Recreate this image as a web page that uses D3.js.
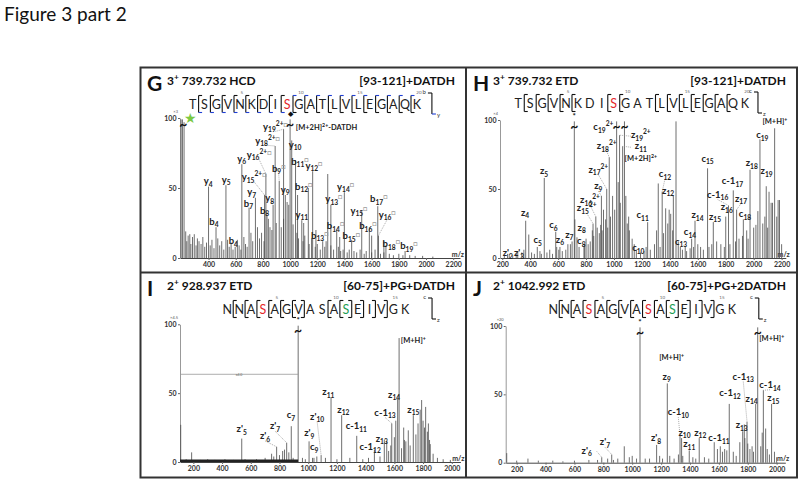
<!DOCTYPE html>
<html>
<head>
<meta charset="utf-8">
<script src="https://cdn.jsdelivr.net/npm/d3@7"></script>
<style>
body{margin:0;background:#fff}
text{font-family:Lato,'Open Sans',sans-serif}
</style>
</head>
<body>
<svg id="fig"></svg>
<script>
// ---------- header texts ----------
const panelLetters = ['G', 'H', 'I', 'J']
const panelTitles = ['3^{+} 739.732 HCD', '3^{+} 739.732 ETD', '2^{+} 928.937 ETD', '2^{+} 1042.992 ETD']
const panelPeptides = ['[93-121]+DATDH', '[93-121]+DATDH', '[60-75]+PG+DATDH', '[60-75]+PG+2DATDH']
const panelMags = ['×3', '×4', '×4.5', '×20']

// ---------- sequences ----------
const gSeq = 'TSGVNKDISGATLVLEGAQK'.split('')
const hSeq = 'TSGVNKDISGATLVLEGAQK'.split('')
const iSeq = 'NNASAGVASASEIVGK'.split('')
const jSeq = 'NNASAGVASASEIVGK'.split('')
// cleavage sites (after residue n): N-terminal ion marks and C-terminal ion marks
const gNside = []
const gCside = [1,2,3,4,5,6,7,8,9,10,11,12,13,14,15,16,17,18,19]
const hNside = []
const hCside = [1,2,3,4,5,8,9,12,13,14,15,16,17,18]
const iNside = [7,11,12,13,14]
const iCside = [1,2,3,4,5,6,9,10]
const jNside = [11,12,13,14]
const jCside = [1,2,3,4,5,6,7,8,9,10]
const gRed = [9], hRed = [9], iRed = [4], jRed = [4,9]
const iGreen = [11], jGreen = [11]

// ---------- axis ticks ----------
const yTicks = [0, 50, 100]
const gTicks = [400,600,800,1000,1200,1400,1600,1800,2000,2200]
const hTicks = [200,400,600,800,1000,1200,1400,1600,1800,2000,2200]
const iTicks = [200,400,600,800,1000,1200,1400,1600,1800,2000]
const jTicks = [200,400,600,800,1000,1200,1400,1600,1800,2000]

// ---------- labelled peaks: [label, peak m/z, peak int, label m/z, label int, leader] ----------
const gLabels = [
  ['y_{4}', 400, 51, 398, 55, 0], ['b_{4}', 455, 22, 440, 26, 0], ['y_{5}', 528, 52, 529, 56, 0],
  ['b_{4}', 596, 8, 582, 12, 0], ['y_{6}', 645, 67, 644, 71, 0], ['b_{7}', 698, 36, 693, 39, 0],
  ['y_{7}', 745, 43, 718, 47, 0], ['y_{15}^{2+}□', 812, 45, 735, 58, 1], ['b_{8}', 830, 30, 812, 34, 0],
  ['y_{16}^{2+}□', 822, 60, 772, 74, 1], ['y_{8}', 875, 38, 850, 43, 0], ['y_{18}^{2+}□', 890, 80, 834, 84, 1],
  ['b_{9}□', 920, 55, 916, 64, 1], ['y_{9}', 965, 45, 963, 49, 0], ['y_{19}^{2+}□', 952, 92, 892, 94, 1],
  ['[M+2H]^{2+}-DATDH', null, null, 1268, 93, 0], ['y_{10}', 1012, 84, 1036, 81, 0],
  ['b_{11}□', 1040, 70, 1072, 69, 0], ['y_{11}', 1086, 27, 1086, 31, 0], ['b_{12}□', 1134, 50, 1100, 51, 0],
  ['y_{12}□', 1166, 62, 1175, 66, 0], ['b_{13}□', 1240, 12, 1218, 16, 0], ['y_{13}□', 1300, 38, 1322, 42, 1],
  ['b_{14}□', 1343, 20, 1334, 23, 0], ['y_{14}□', 1399, 47, 1408, 51, 0], ['b_{15}□', 1453, 13, 1450, 15.5, 0],
  ['y_{15}□', 1527, 34, 1506, 34, 0], ['b_{16}□', 1583, 22, 1572, 23, 0], ['b_{17}□', 1645, 37, 1652, 42, 1],
  ['y_{16}□', 1650, 16, 1714, 31, 1], ['b_{18}□', 1705, 9, 1744, 10, 0], ['b_{19}□', 1846, 5, 1874, 8.5, 0]
]
const hLabels = [
  ["z'_{2}", 238, 3, 240, 3.5, 0], ["z'_{3}", 311, 5, 320, 3.5, 0], ['z_{4}', 368, 27, 363, 33, 0],
  ['c_{5}', 451, 8, 454, 13, 0], ['z_{5}', 501, 58, 499, 63, 0], ['c_{6}', 583, 19, 566, 24, 0],
  ['z_{6}', 613, 8, 613, 13.5, 0], ['z_{7}', 688, 10, 680, 17, 0], ['c_{8}', 785, 8, 766, 12.5, 0],
  ['z_{8}', 800, 14, 769, 22, 0], ['z_{15}^{2+}', 850, 25, 805, 36, 1], ['z_{16}^{2+}', 870, 30, 828, 42, 1],
  ['z_{9}', 910, 45, 888, 52, 1], ['z_{17}^{2+}', 948, 50, 888, 64, 1], ['z_{18}^{2+}', 966, 73, 948, 81, 1],
  ['c_{19}^{2+}', null, null, 924, 95, 0], ['z_{19}^{2+}', 1040, 89, 1192, 89, 1], ['z_{11}', 1062, 81, 1192, 81, 1],
  ['[M+2H]^{2+}', null, null, 1192, 72, 0], ['c_{10}', 1190, 4, 1174, 7, 0], ['c_{11}', 1241, 26, 1205, 31, 0],
  ['c_{12}', 1345, 48, 1365, 61, 1], ['z_{12}', 1425, 45, 1387, 49, 1], ['c_{13}', 1510, 8, 1480, 12, 0],
  ['c_{14}', 1556, 14, 1544, 19, 0], ['z_{14}', 1580, 27, 1598, 31, 0], ['c_{15}', 1670, 65, 1670, 72, 0],
  ['z_{15}', 1711, 26, 1723, 30, 0], ['c-1_{16}', 1820, 38, 1742, 46, 1], ['z_{16}', 1800, 30, 1807, 37, 0],
  ['c-1_{17}', 1854, 49, 1848, 56, 0], ['z_{17}', 1878, 35, 1909, 43, 1], ['c_{18}', 1926, 28, 1938, 32, 0],
  ['z_{18}', 1974, 64, 1986, 69, 0], ['c_{19}', 2045, 86, 2062, 89, 0], ['z_{19}', 2090, 52, 2093, 63, 0],
  ['[M+H]^{+}', 2150, 94, 2152, 99, 0]
]
const iLabels = [
  ["z'_{5}", 537, 17, 537, 24, 0], ["z'_{6}", 780, 11, 699, 19, 1], ["z'_{7}", 850, 14, 769, 26, 1],
  ['c_{7}', 882, 26, 880, 34, 0], ["z'_{9}", 1006, 15, 1008, 21, 0], ['c_{9}', 1030, 3, 1042, 11, 0],
  ["z'_{10}", 1090, 5, 1062, 33, 1], ['z_{11}', 1159, 47, 1140, 51, 0], ['z_{12}', 1233, 34, 1245, 38, 0],
  ['c-1_{11}', 1338, 19, 1335, 26, 0], ['c-1_{12}', 1461, 9, 1431, 11, 0], ['z_{13}', 1547, 15, 1512, 17, 0],
  ['c-1_{13}', 1582, 28, 1535, 36, 1], ['z_{14}', 1623, 46, 1598, 49, 1], ['z_{15}', 1732, 34, 1732, 38, 0],
  ['[M+H]^{+}', 1633, 90, 1732, 88, 0]
]
const jLabels = [
  ["z'_{6}", 789, 4, 685, 9, 1], ["z'_{7}", 858, 6, 811, 15, 1], ["z'_{8}", 1169, 13, 1165, 18, 0],
  ['[M+H]^{+}', null, null, 1273, 77, 0], ['z_{9}', 1243, 58, 1239, 63, 0], ['c-1_{10}', 1331, 20, 1319, 37, 1],
  ['z_{10}', 1342, 18, 1362, 22, 0], ['z_{11}', 1395, 9, 1395, 13.5, 0], ['z_{12}', 1464, 18, 1471, 22, 0],
  ['c-1_{11}', 1568, 15, 1601, 18, 0], ['c-1_{12}', 1672, 43, 1677, 51, 0], ['c-1_{13}', 1795, 30, 1769, 63, 1],
  ['z_{13}', 1765, 23, 1758, 27.5, 0], ['z_{14}', 1855, 43, 1827, 47, 0], ['c-1_{14}', 1908, 53, 1954, 57, 1],
  ['z_{15}', 1965, 43, 1977, 47.5, 0], ['[M+H]^{+}', null, null, 1966, 91, 0]
]

// ---------- other peaks [m/z, int] ----------
const gPeaks = [[198,100],[208,100],[220,97],[1000,100],[1277,60],[990,38],[1055,45],[1100,25],[1190,20],[1365,15],[1600,16],[1690,12]]
const hPeaks = [[716,100],[1019,100],[1075,100],[390,17],[720,28],[1317,54],[1406,32],[1444,99],[1370,36],[1110,20],[2110,48],[2135,40],[2175,42],[2016,24]]
const iPeaks = [[930,100],[112,27],[188,7],[1670,16],[1697,23],[1790,45],[1818,40],[1837,28],[1850,13]]
const jPeaks = [[1054,100],[1869,100],[131,7],[945,12],[1924,25],[1776,28]]

const gNoise = [[232,19],[240,12],[250,16],[262,17],[270,10],[282,15],[295,17],[308,9],[318,14],[330,12],[345,10],[358,15],[372,8],[385,11],[412,9],[425,13],[440,7],[468,14],[482,9],[497,12],[512,6],[540,13],[552,8],[566,11],[580,6],[612,13],[625,9],[638,6],[660,15],[672,10],[684,8],[712,18],[725,12],[760,22],[775,14],[790,18],[808,12],[840,28],[852,22],[866,20],[898,25],[935,22],[952,28],[978,40],[1022,24],[1050,18],[1062,14],[1095,12],[1108,16],[1140,10],[1158,14],[1185,8],[1200,10],[1222,6],[1255,8],[1265,12],[1300,9],[1320,6],[1355,8],[1372,5],[1390,6],[1420,4],[1435,6],[1470,5],[1490,4],[1515,6],[1545,3],[1560,5],[1600,4],[1625,6],[1665,3],[1690,4],[1730,3],[1760,2],[1800,3],[1830,2],[1880,2],[1920,1.5],[1975,1.5],[2050,1]]
const hNoise = [[215,2],[250,3],[275,2],[300,3],[340,4],[355,6],[410,4],[430,3],[470,5],[480,3],[520,4],[540,6],[560,3],[590,8],[605,6],[630,5],[655,6],[670,10],[700,12],[735,15],[750,8],[790,10],[815,10],[830,12],[845,20],[855,16],[880,22],[895,18],[905,24],[915,20],[925,35],[940,28],[955,22],[975,30],[990,45],[1005,35],[1030,55],[1045,40],[1085,45],[1095,25],[1105,30],[1130,14],[1145,10],[1160,6],[1215,5],[1230,8],[1260,6],[1290,10],[1305,20],[1330,8],[1355,18],[1385,25],[1395,35],[1420,20],[1460,12],[1475,8],[1490,6],[1520,5],[1545,7],[1570,8],[1600,10],[1620,8],[1640,6],[1680,8],[1700,10],[1735,12],[1765,10],[1790,8],[1830,10],[1870,12],[1895,14],[1920,16],[1950,20],[1960,14],[2000,22],[2030,34],[2065,25],[2080,30],[2100,22],[2125,40],[2165,30],[2185,42],[2200,10]]
const iNoise = [[150,2],[250,1.5],[300,2],[350,1.5],[420,2],[480,1.5],[560,2],[640,2],[700,3],[745,6],[760,4],[800,5],[822,8],[835,9],[865,7],[895,3],[960,3],[980,2],[1040,3],[1060,4],[1120,3],[1200,2],[1290,3],[1380,2],[1420,3],[1500,4],[1530,16],[1560,8],[1575,12],[1600,18],[1610,30],[1650,10],[1665,25],[1680,15],[1710,12],[1750,20],[1765,28],[1780,38],[1800,30],[1810,25],[1830,22],[1845,16],[1870,6],[1900,3],[1940,2],[1990,1.5]]
const jNoise = [[200,1.5],[278,3],[350,1.5],[450,1.5],[520,1],[600,1.5],[700,2],[760,2],[830,3],[870,2],[900,3],[980,4],[1000,5],[1030,3],[1090,3],[1120,3],[1190,5],[1210,3],[1260,5],[1290,3],[1320,6],[1350,5],[1420,4],[1440,3],[1500,4],[1530,3],[1590,10],[1610,12],[1625,8],[1640,10],[1655,9],[1700,8],[1720,5],[1745,15],[1780,18],[1800,14],[1815,10],[1830,12],[1840,8],[1890,12],[1900,22],[1935,10],[1950,6],[1985,8],[2000,4]]

// clipped peaks (break marks) and markers
const gBreaks = [215, 1000], hBreaks = [716, 1019, 1075], iBreaks = [930], jBreaks = [1054, 1869]
const gStars = [], hStars = [716], iStars = [930], jStars = [1054]
const gGreenStar = [264], gDiamond = [1000]
const iZoomRange = [107, 930], iZoomLevel = [63.7], iZoomText = ['x4.0']

// ---------- drawing ----------
const svg = d3.select('#fig').attr('width', 800).attr('height', 485)
svg.append('rect').attr('width', 800).attr('height', 485).attr('fill', '#fff')

// adds text with _{sub} ^{sup} markup
function rich(t, str, size){
  const parts = str.split(/(_\{[^}]*\}|\^\{[^}]*\}|□)/).filter(s => s !== '')
  let cur = 0
  parts.forEach(p => {
    let dy = 0, txt = p, fs = size, fill = null
    if (p.startsWith('_{')) { dy = size * 0.28; txt = p.slice(2, -1); fs = size * 0.7 }
    else if (p.startsWith('^{')) { dy = -size * 0.42; txt = p.slice(2, -1); fs = size * 0.7 }
    else if (p === '□') { dy = -size * 0.3; fs = size * 0.75; fill = '#999' }
    t.append('tspan').attr('dy', dy - cur).attr('font-size', fs).attr('fill', fill).text(txt)
    cur = dy
  })
}

class Spectrum{
  constructor(config, data){
    this.config = config
    this.data = data
    this.init()
  }

  init(){
    let self = this
    self.chart = svg.append('g')
    self.xscale = d3.scaleLinear().domain(self.config.domain).range(self.config.xRange)
    self.yscale = d3.scaleLinear().domain([0, 100]).range(self.config.yRange)
  }

  render(){
    this.header()
    this.sequence()
    this.axes()
    this.sticks()
    this.labels()
    this.marks()
  }

  header(){
    let self = this, c = self.config, d = self.data
    self.chart.append('text').attr('x', c.left + 7).attr('y', c.top + 24)
      .attr('font-size', 21).attr('font-weight', 'bold').attr('fill', '#111').text(d.letter)
    const t = self.chart.append('text').attr('x', c.left + 27).attr('y', c.top + 18)
      .attr('font-size', 12).attr('font-weight', 'bold').attr('fill', '#111')
    rich(t, d.title, 12)
    self.chart.append('text').attr('x', c.right - 11).attr('y', c.top + 18).attr('text-anchor', 'end')
      .attr('font-size', 12).attr('font-weight', 'bold').attr('fill', '#111').text(d.peptide)
  }

  sequence(){
    let self = this, c = self.config, d = self.data
    const sx = i => c.seqX0 + i * c.seqStep
    const yc = c.seqY
    self.chart.selectAll(null).data(d.seq).enter().append('text')
      .attr('x', (s, i) => sx(i)).attr('y', yc + 4.5).attr('text-anchor', 'middle')
      .attr('font-size', 12.5)
      .attr('fill', (s, i) => d.red.includes(i + 1) ? '#e5262b' : d.green.includes(i + 1) ? '#1e9e55' : '#222')
      .text(s => s)
    // residue numbers
    self.chart.selectAll(null).data(d.seq.map((s, i) => i + 1).filter(n => n % 5 === 0)).enter().append('text')
      .attr('x', n => sx(n - 1) + 2).attr('y', yc - 10.5).attr('text-anchor', 'middle')
      .attr('font-size', 4.5).attr('fill', '#666').text(n => n)
    const line = (x1, y1, x2, y2, col) => self.chart.append('line')
      .attr('x1', x1).attr('y1', y1).attr('x2', x2).attr('y2', y2)
      .attr('stroke', col || '#111').attr('stroke-width', 1.1)
    const h = 8.5, tk = 3.5
    d.cSide.forEach(n => {
      const xv = sx(n - 1) + c.seqStep / 2
      line(xv, yc - h, xv, yc + h)
      const topCol = d.mod && n >= d.mod ? '#1f3fd6' : '#111'
      const botCol = d.mod && n < d.mod ? '#1f3fd6' : '#111'
      line(xv, yc - h, xv + tk, yc - h, topCol)
      line(xv, yc + h, xv + tk, yc + h, botCol)
    })
    d.nSide.forEach(n => {
      const xv = sx(n - 1) + c.seqStep / 2
      line(xv, yc - h, xv, yc + h)
      line(xv - tk, yc - h, xv, yc - h)
      line(xv - tk, yc + h, xv, yc + h)
    })
    // ion type legend
    const lx = sx(d.seq.length - 1) + c.legendDx
    line(lx - 4, yc - 11, lx, yc - 11)
    line(lx, yc - 11, lx, yc + 10)
    line(lx, yc + 10, lx + 4, yc + 10, d.mod ? '#1f3fd6' : '#111')
    self.chart.append('text').attr('x', lx - 6).attr('y', yc - 10).attr('text-anchor', 'end')
      .attr('font-size', 6).attr('fill', '#333').text(d.ionN)
    self.chart.append('text').attr('x', lx + 5).attr('y', yc + 13)
      .attr('font-size', 6).attr('fill', '#333').text(d.ionC)
  }

  axes(){
    let self = this, c = self.config, d = self.data
    const xaxis = d3.axisBottom(self.xscale).tickValues(d.ticks).tickFormat(v => v)
      .tickSize(2).tickSizeOuter(0).tickPadding(2)
    const yaxis = d3.axisLeft(self.yscale).tickValues(yTicks).tickFormat(v => v)
      .tickSize(2).tickSizeOuter(0).tickPadding(1.5)
    const xg = self.chart.append('g').attr('transform', `translate(0,${c.yRange[0]})`).call(xaxis)
    const yg = self.chart.append('g').attr('transform', `translate(${c.xRange[0]},0)`).call(yaxis)
    xg.select('.domain').attr('stroke', '#444')
    yg.select('.domain').attr('stroke', '#999')
    xg.selectAll('line').attr('stroke', '#666')
    yg.selectAll('line').attr('stroke', '#666')
    ;[xg, yg].forEach(g => g.selectAll('text').attr('font-size', 7).attr('font-weight', 'bold')
      .attr('fill', '#333').attr('font-family', 'Lato, sans-serif'))
    self.chart.append('text').attr('x', c.xRange[1] + 4).attr('y', c.yRange[0] - 1.5)
      .attr('text-anchor', 'end').attr('font-size', 7).attr('font-weight', 'bold').attr('fill', '#333').text('m/z')
    self.chart.append('text').attr('x', c.xRange[0] - 2).attr('y', c.yRange[1] - 5)
      .attr('text-anchor', 'end').attr('font-size', 4).attr('fill', '#555').text(d.mag)
  }

  sticks(){
    let self = this, d = self.data
    const all = d.noise.concat(d.peaks, d.labels.filter(l => l[1] !== null).map(l => [l[1], l[2]]))
    self.chart.selectAll(null).data(all).enter().append('line')
      .attr('x1', p => self.xscale(p[0])).attr('x2', p => self.xscale(p[0]))
      .attr('y1', self.yscale(0)).attr('y2', p => self.yscale(Math.min(p[1], 99)))
      .attr('stroke', '#4a4a4a').attr('stroke-width', 0.8)
    if (d.zoomRange){
      const x0 = self.xscale(d.zoomRange[0]), x1 = self.xscale(d.zoomRange[1])
      self.chart.append('rect').attr('x', x0).attr('y', self.yscale(0) - 2.5)
        .attr('width', x1 - x0).attr('height', 2.5).attr('fill', '#222')
      self.chart.append('line').attr('x1', x0).attr('x2', x1)
        .attr('y1', self.yscale(d.zoomLevel)).attr('y2', self.yscale(d.zoomLevel))
        .attr('stroke', '#999').attr('stroke-width', 0.8)
      self.chart.append('text').attr('x', (x0 + x1) / 2).attr('y', self.yscale(d.zoomLevel) + 1.5)
        .attr('text-anchor', 'middle').attr('font-size', 3.5).attr('fill', '#666').text(d.zoomText)
    }
  }

  labels(){
    let self = this, d = self.data
    d.labels.forEach(l => {
      const [txt, pm, pi, lm, li, leader] = l
      const size = txt.startsWith('[') ? 7.5 : 9.5
      const lx = self.xscale(lm), ly = self.yscale(li)
      if (leader && pm !== null){
        const px = self.xscale(pm), py = self.yscale(pi)
        let sx = lx, sy = ly + 5
        if (Math.abs(lx - px) > 12){ sx = lx + (px > lx ? 10 : -10); sy = ly + 1 }
        self.chart.append('line').attr('x1', sx).attr('y1', sy).attr('x2', px).attr('y2', py)
          .attr('stroke', '#888').attr('stroke-width', 0.7).attr('stroke-dasharray', '1,1')
      }
      const t = self.chart.append('text').attr('x', lx).attr('y', ly + size * 0.33)
        .attr('text-anchor', 'middle').attr('font-size', size).attr('font-weight', 'bold').attr('fill', '#222')
      rich(t, txt, size)
    })
  }

  marks(){
    let self = this, d = self.data
    d.breaks.forEach(m => self.chart.append('text').attr('x', self.xscale(m)).attr('y', self.yscale(95) + 4)
      .attr('text-anchor', 'middle').attr('font-size', 14).attr('font-weight', 'bold').attr('fill', '#111').text('~'))
    d.stars.forEach(m => self.chart.append('text').attr('x', self.xscale(m)).attr('y', self.yscale(103) + 3)
      .attr('text-anchor', 'middle').attr('font-size', 8).attr('font-weight', 'bold').attr('fill', '#111').text('*'))
    ;(d.greenStar || []).forEach(m => self.chart.append('text').attr('x', self.xscale(m)).attr('y', self.yscale(100) + 5)
      .attr('text-anchor', 'middle').attr('font-size', 14).attr('fill', '#7ac943').text('★'))
    ;(d.diamond || []).forEach(m => self.chart.append('text').attr('x', self.xscale(m)).attr('y', self.yscale(103) + 2.5)
      .attr('text-anchor', 'middle').attr('font-size', 7).attr('fill', '#111').text('◆'))
  }
}

// title
svg.append('text').attr('x', 4).attr('y', 21).attr('font-size', 19).attr('fill', '#111').text('Figure 3 part 2')

const panels = [
  [{left:140, top:67, right:466, domain:[190,2250], xRange:[180,460], yRange:[258,118], seqX0:192.7, seqStep:11.8, seqY:104, legendDx:15},
   {letter:panelLetters[0], title:panelTitles[0], peptide:panelPeptides[0], mag:panelMags[0], seq:gSeq, nSide:gNside, cSide:gCside,
    red:gRed, green:[], mod:9, ionN:'b', ionC:'y', ticks:gTicks, labels:gLabels, peaks:gPeaks, noise:gNoise,
    breaks:gBreaks, stars:gStars, greenStar:gGreenStar, diamond:gDiamond}],
  [{left:466, top:67, right:797, domain:[184,2230], xRange:[500,785.8], yRange:[258,120], seqX0:518.3, seqStep:11.93, seqY:103, legendDx:13},
   {letter:panelLetters[1], title:panelTitles[1], peptide:panelPeptides[1], mag:panelMags[1], seq:hSeq, nSide:hNside, cSide:hCside,
    red:hRed, green:[], ionN:'c', ionC:'z', ticks:hTicks, labels:hLabels, peaks:hPeaks, noise:hNoise,
    breaks:hBreaks, stars:hStars}],
  [{left:140, top:272, right:466, domain:[107,2060], xRange:[180,460.4], yRange:[462,324.3], seqX0:227.3, seqStep:11.85, seqY:309, legendDx:27},
   {letter:panelLetters[2], title:panelTitles[2], peptide:panelPeptides[2], mag:panelMags[2], seq:iSeq, nSide:iNside, cSide:iCside,
    red:iRed, green:iGreen, ionN:'c', ionC:'z', ticks:iTicks, labels:iLabels, peaks:iPeaks, noise:iNoise,
    breaks:iBreaks, stars:iStars, zoomRange:iZoomRange, zoomLevel:iZoomLevel[0], zoomText:iZoomText[0]}],
  [{left:466, top:272, right:797, domain:[124,2060], xRange:[505.7,785.3], yRange:[462.7,326], seqX0:553.3, seqStep:11.9, seqY:309, legendDx:27},
   {letter:panelLetters[3], title:panelTitles[3], peptide:panelPeptides[3], mag:panelMags[3], seq:jSeq, nSide:jNside, cSide:jCside,
    red:jRed, green:jGreen, ionN:'c', ionC:'z', ticks:jTicks, labels:jLabels, peaks:jPeaks, noise:jNoise,
    breaks:jBreaks, stars:jStars}]
]
panels.forEach(p => new Spectrum(p[0], p[1]).render())

// frame
svg.append('rect').attr('x', 140.5).attr('y', 67.5).attr('width', 656.5).attr('height', 410)
  .attr('fill', 'none').attr('stroke', '#333').attr('stroke-width', 2)
svg.append('line').attr('x1', 466).attr('x2', 466).attr('y1', 67).attr('y2', 478).attr('stroke', '#333').attr('stroke-width', 2)
svg.append('line').attr('x1', 140).attr('x2', 797).attr('y1', 272.5).attr('y2', 272.5).attr('stroke', '#333').attr('stroke-width', 2)
</script>
</body>
</html>
